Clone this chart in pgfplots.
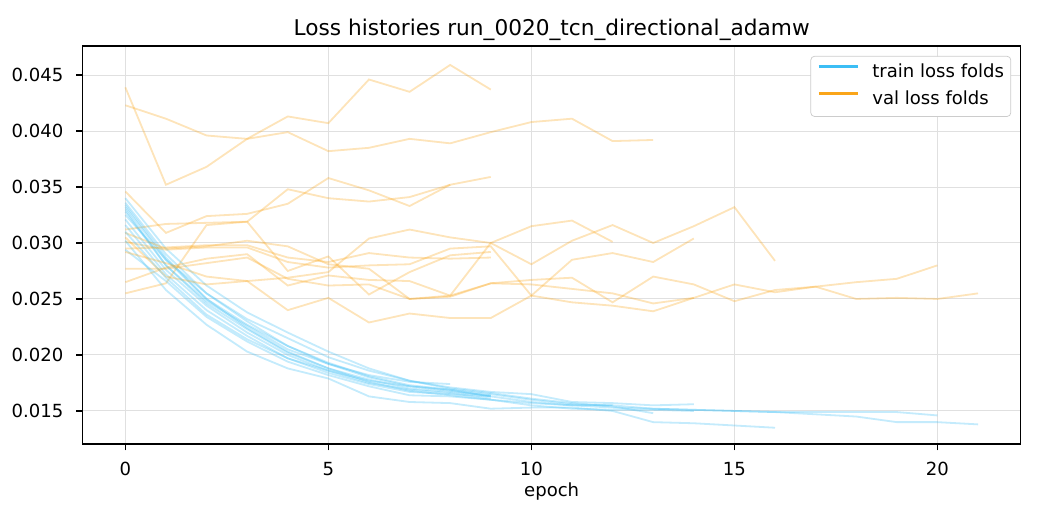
\documentclass[border=0pt]{standalone}
\usepackage{fontspec}
\setmainfont{DejaVu Sans}
\usepackage{pgfplots}
\pgfplotsset{compat=1.18}
\definecolor{trainc}{RGB}{60,190,245}
\definecolor{valc}{RGB}{250,165,25}
\begin{document}
\begin{tikzpicture}
\useasboundingbox (0,0) rectangle (576pt,288pt);
\begin{axis}[
  at={(45.8pt,42.1pt)}, anchor=south west,
  scale only axis, width=519.5pt, height=220.4pt,
  xmin=-1.05, xmax=22.05, ymin=0.01205, ymax=0.04759,
  xtick={0,5,10,15,20},
  ytick={0.015,0.020,0.025,0.030,0.035,0.040,0.045},
  scaled y ticks=false,
  /pgf/number format/assume math mode=true,
  yticklabel style={/pgf/number format/fixed, /pgf/number format/fixed zerofill, /pgf/number format/precision=3},
  tick label style={font=\fontsize{10}{12}\selectfont},
  xticklabel style={anchor=base, inner sep=0pt, yshift=-14.1pt},
  yticklabel style={anchor=east, inner sep=0pt, xshift=-7pt},
  tick align=outside, tick pos=left,
  major tick length=3.5pt,
  tick style={black, line width=0.8pt},
  axis line style={black, line width=0.8pt},
  grid=major,
  major grid style={black!12, line width=0.55pt},
  every axis title shift=0pt,
  title={Loss histories run\_0020\_tcn\_directional\_adamw},
  title style={font=\fontsize{12}{14}\selectfont, at={(0.5,1)}, anchor=base, inner sep=0pt, yshift=6pt},
  xlabel={epoch},
  xlabel style={font=\fontsize{10}{12}\selectfont, at={(0.5,0)}, anchor=base, inner sep=0pt, yshift=-29.2pt},
  legend style={at={(1,1)}, anchor=north east, xshift=-5.3pt, yshift=-5.5pt,
    draw=black!20, rounded corners=2pt, fill=white,
    font=\fontsize{10}{12}\selectfont,
    inner xsep=3.7pt, inner ysep=4pt,
    nodes={inner sep=0pt, text height=7.6pt, text depth=2.4pt},
    column sep=7.4pt, row sep=5.3pt},
  legend cell align=left,
  legend image code/.code={\draw[#1] (0pt,3.6pt) -- (21.4pt,3.6pt);},
  every axis plot/.append style={line width=1pt},
]
\addlegendimage{trainc, line width=1.6pt}
\addlegendentry{train loss folds}
\addlegendimage{valc, line width=1.6pt}
\addlegendentry{val loss folds}

\pgfplotsset{tr/.style={trainc, opacity=0.3, forget plot}, va/.style={valc, opacity=0.3, forget plot}}
% A
\addplot[tr] coordinates {(0,0.0330)(1,0.0280)(2,0.0248)(3,0.0226)(4,0.0205)(5,0.0192)(6,0.0180)(7,0.0172)(8,0.0168)(9,0.0163)};
\addplot[va] coordinates {(0,0.0439)(1,0.0352)(2,0.0368)(3,0.0393)(4,0.0413)(5,0.0407)(6,0.0446)(7,0.0435)(8,0.0459)(9,0.0437)};
% B
\addplot[tr] coordinates {(0,0.0336)(1,0.0290)(2,0.0255)(3,0.0232)(4,0.0215)(5,0.0198)(6,0.0186)(7,0.0177)(8,0.0170)(9,0.0166)(10,0.0161)(11,0.0157)(12,0.0154)(13,0.0148)};
\addplot[va] coordinates {(0,0.0423)(1,0.0411)(2,0.0396)(3,0.0393)(4,0.0399)(5,0.0382)(6,0.0385)(7,0.0393)(8,0.0389)(9,0.0399)(10,0.0408)(11,0.0411)(12,0.0391)(13,0.0392)};
% C1
\addplot[tr] coordinates {(0,0.0325)(1,0.0285)(2,0.0255)(3,0.0230)(4,0.0208)(5,0.0192)(6,0.0182)(7,0.0176)(8,0.0174)};
\addplot[va] coordinates {(0,0.0346)(1,0.0309)(2,0.0324)(3,0.0326)(4,0.0335)(5,0.0358)(6,0.0347)(7,0.0333)(8,0.0352)};
% C2
\addplot[tr] coordinates {(0,0.0321)(1,0.0276)(2,0.0244)(3,0.0220)(4,0.0200)(5,0.0186)(6,0.0175)(7,0.0169)(8,0.0166)(9,0.0161)};
\addplot[va] coordinates {(0,0.0312)(1,0.0317)(2,0.0318)(3,0.0319)(4,0.0348)(5,0.0340)(6,0.0337)(7,0.0341)(8,0.0352)(9,0.0359)};
% D
\addplot[tr] coordinates {(0,0.0334)(1,0.0287)(2,0.0250)(3,0.0224)(4,0.0203)(5,0.0188)(6,0.0178)(7,0.0170)(8,0.0167)(9,0.0164)};
\addplot[va] coordinates {(0,0.0255)(1,0.0264)(2,0.0316)(3,0.0319)(4,0.0275)(5,0.0288)(6,0.0254)(7,0.0274)(8,0.0289)(9,0.0292)};
% E
\addplot[tr] coordinates {(0,0.0340)(1,0.0295)(2,0.0262)(3,0.0238)(4,0.0220)(5,0.0203)(6,0.0188)(7,0.0177)(8,0.0171)(9,0.0167)(10,0.0165)(11,0.0158)(12,0.0157)(13,0.0155)(14,0.0156)};
\addplot[va] coordinates {(0,0.0301)(1,0.0294)(2,0.0296)(3,0.0296)(4,0.0283)(5,0.0278)(6,0.0280)(7,0.0281)(8,0.0295)(9,0.0297)(10,0.0253)(11,0.0285)(12,0.0291)(13,0.0283)(14,0.0304)};
% F
\addplot[tr] coordinates {(0,0.0332)(1,0.0285)(2,0.0250)(3,0.0227)(4,0.0208)(5,0.0193)(6,0.0181)(7,0.0173)(8,0.0169)(9,0.0165)(10,0.0160)(11,0.0156)(12,0.0155)(13,0.0152)(14,0.0151)(15,0.0150)(16,0.0149)(17,0.0147)(18,0.0145)(19,0.0140)(20,0.0140)(21,0.0138)};
\addplot[va] coordinates {(0,0.0277)(1,0.0277)(2,0.0282)(3,0.0287)(4,0.0268)(5,0.0262)(6,0.0263)(7,0.0250)(8,0.0252)(9,0.0264)(10,0.0263)(11,0.0259)(12,0.0255)(13,0.0246)(14,0.0251)(15,0.0263)(16,0.0256)(17,0.0261)(18,0.0250)(19,0.0251)(20,0.0250)(21,0.0255)};
% G
\addplot[tr] coordinates {(0,0.0316)(1,0.0272)(2,0.0240)(3,0.0217)(4,0.0197)(5,0.0184)(6,0.0174)(7,0.0167)(8,0.0165)(9,0.0163)(10,0.0158)(11,0.0155)(12,0.0155)};
\addplot[va] coordinates {(0,0.0305)(1,0.0270)(2,0.0263)(3,0.0266)(4,0.0269)(5,0.0274)(6,0.0304)(7,0.0312)(8,0.0305)(9,0.0300)(10,0.0315)(11,0.0320)(12,0.0301)};
% H
\addplot[tr] coordinates {(0,0.0302)(1,0.0258)(2,0.0227)(3,0.0203)(4,0.0188)(5,0.0179)(6,0.0163)(7,0.0158)(8,0.0157)(9,0.0152)(10,0.0153)(11,0.0153)(12,0.0150)(13,0.0140)(14,0.0139)(15,0.0137)(16,0.0135)};
\addplot[va] coordinates {(0,0.0309)(1,0.0295)(2,0.0297)(3,0.0302)(4,0.0297)(5,0.0281)(6,0.0277)(7,0.0250)(8,0.0253)(9,0.0300)(10,0.0281)(11,0.0302)(12,0.0316)(13,0.0300)(14,0.0315)(15,0.0332)(16,0.0284)};
% I
\addplot[tr] coordinates {(0,0.0328)(1,0.0280)(2,0.0246)(3,0.0223)(4,0.0202)(5,0.0188)(6,0.0176)(7,0.0168)(8,0.0164)(9,0.0160)(10,0.0157)(11,0.0155)(12,0.0153)(13,0.0152)(14,0.0151)(15,0.0150)(16,0.0149)(17,0.0149)(18,0.0149)(19,0.0149)(20,0.0146)};
\addplot[va] coordinates {(0,0.0265)(1,0.0278)(2,0.0286)(3,0.0290)(4,0.0262)(5,0.0271)(6,0.0267)(7,0.0266)(8,0.0253)(9,0.0264)(10,0.0267)(11,0.0269)(12,0.0247)(13,0.0270)(14,0.0263)(15,0.0248)(16,0.0258)(17,0.0261)(18,0.0265)(19,0.0268)(20,0.0280)};
% J
\addplot[tr] coordinates {(0,0.0294)(1,0.0266)(2,0.0234)(3,0.0212)(4,0.0194)(5,0.0182)(6,0.0172)(7,0.0164)(8,0.0163)(9,0.0160)(10,0.0155)(11,0.0152)(12,0.0151)(13,0.0151)(14,0.0150)};
\addplot[va] coordinates {(0,0.0292)(1,0.0282)(2,0.0270)(3,0.0266)(4,0.0240)(5,0.0251)(6,0.0229)(7,0.0237)(8,0.0233)(9,0.0233)(10,0.0253)(11,0.0247)(12,0.0244)(13,0.0239)(14,0.0251)};
% K
\addplot[tr] coordinates {(0,0.0310)(1,0.0269)(2,0.0236)(3,0.0214)(4,0.0197)(5,0.0186)(6,0.0177)(7,0.0172)(8,0.0169)(9,0.0163)};
\addplot[va] coordinates {(0,0.0295)(1,0.0296)(2,0.0298)(3,0.0298)(4,0.0287)(5,0.0283)(6,0.0291)(7,0.0287)(8,0.0286)(9,0.0287)};
\end{axis}
\end{tikzpicture}
\end{document}
